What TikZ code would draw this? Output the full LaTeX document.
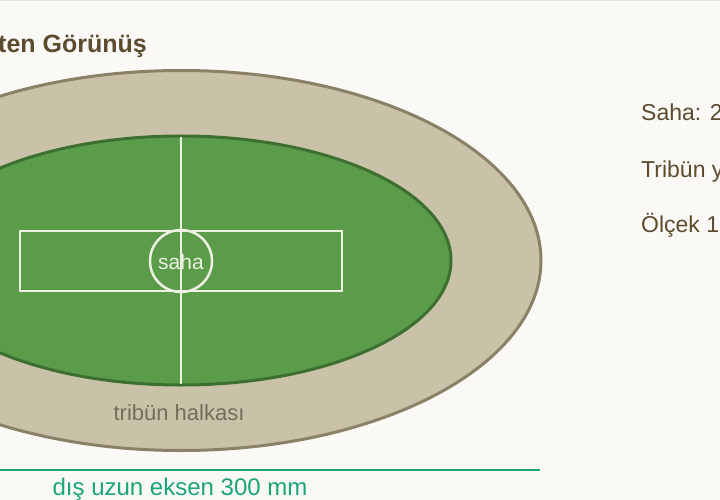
\documentclass[tikz,border=0pt]{standalone}
\usepackage{fontspec}
\setmainfont{Liberation Sans}
\definecolor{zemin}{HTML}{FAF9F6}
\definecolor{tribun}{HTML}{C9C2A9}
\definecolor{tribuncizgi}{HTML}{8A8166}
\definecolor{cim}{HTML}{5A9C4A}
\definecolor{cimcizgi}{HTML}{3D7030}
\definecolor{beyaz}{HTML}{EEF0E2}
\definecolor{yazi}{HTML}{5C4B2E}
\definecolor{olcu}{HTML}{1BA677}
\tikzset{
  cizgi/.style={draw=beyaz,line width=2.5pt},
  bilgi/.style={anchor=base west,text=yazi,font=\fontsize{23}{27}\selectfont,inner sep=0pt}
}
\begin{document}
\begin{tikzpicture}[x=1pt,y=-1pt]
	    \useasboundingbox (0,0) rectangle (720,500);
	    \clip (0,0) rectangle (720,500);
	    \fill[zemin](0,0) rectangle (720,500);
	    \draw[draw=black!12,line width=1pt](0,0.5)--(720,0.5);
	    \filldraw[fill=tribun,draw=tribuncizgi,line width=3pt](181,260.5) ellipse[x radius=360,y radius=190];
	    \filldraw[fill=cim,draw=cimcizgi,line width=3pt](181,260.5) ellipse[x radius=270,y radius=124.5];
	    \draw[cizgi](20,231) rectangle (342,291);
	    \draw[cizgi](181,261) circle(31);
	    \draw[cizgi](181,137.5)--(181,383.5);
	    \node[text=beyaz,font=\fontsize{21}{25}\selectfont] (saha) at (181,262) {saha};
	    \node[text=tribuncizgi!85!black,font=\fontsize{22}{26}\selectfont] (halka) at (179,413) {tribün halkası};
	    \coordinate (eksenA) at (-180,470);
	    \coordinate (eksenB) at (540,470);
	    \draw[olcu,line width=2.5pt](eksenA)--(eksenB);
	    \node[text=olcu,font=\fontsize{24}{28}\selectfont] (eksen) at (180,489) {dış uzun eksen 300 mm};
	    \node[anchor=base east,text=yazi,font=\bfseries\fontsize{25}{29}\selectfont,inner sep=0pt] (baslik) at (147,53) {Üstten Görünüş};
	    \node[bilgi] (bilgi1) at (641,121) {Saha: 2};
	    \node[bilgi] (bilgi2) at (641,177) {Tribün y};
	    \node[bilgi] (bilgi3) at (641,232) {Ölçek 1};
	\end{tikzpicture}
\end{document}
